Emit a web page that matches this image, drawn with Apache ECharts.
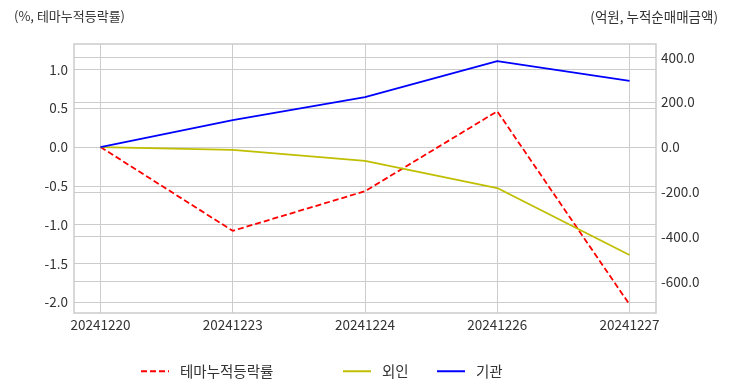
<!DOCTYPE html>
<html><head><meta charset="utf-8">
<script src="https://cdn.jsdelivr.net/npm/echarts@6/dist/echarts.min.js"></script>
<style>html,body{margin:0;padding:0;background:#fff}#c{width:732px;height:392px}</style>
</head><body><div id="c"></div>
<script>
const categories = ['20241220','20241223','20241224','20241226','20241227'];
const themeReturn = [0, -1.08, -0.57, 0.46, -2.03];
const foreign = [0, -13, -62, -183, -482];
const institution = [0, 120, 223, 384, 295];
const leftTicks = [-2.0, -1.5, -1.0, -0.5, 0.0, 0.5, 1.0];
const rightTicks = [-600, -400, -200, 0, 200, 400];
const seriesNames = ['테마누적등락률', '외인', '기관'];

const font = '"Noto Sans CJK KR", "Noto Sans", sans-serif';
const textColor = '#333333';
const gridColor = '#cccccc';
const toPairs = arr => arr.map((v, i) => [i, v]);

const legendText = { fontSize: 14.5, color: textColor, fontFamily: font, padding: [0, 0, 0, 6] };
const legendCommon = { top: 359, itemWidth: 28, itemHeight: 10, itemStyle: { opacity: 0 }, textStyle: legendText };

const chart = echarts.init(document.getElementById('c'));
chart.setOption({
  animation: false,
  backgroundColor: '#ffffff',
  textStyle: { fontFamily: font },
  title: [
    { text: '(%, 테마누적등락률)', left: 9, top: 5, textStyle: { fontSize: 13, fontWeight: 'normal', color: textColor, fontFamily: font } },
    { text: '(억원, 누적순매매금액)', right: 9, top: 5, textStyle: { fontSize: 13.5, fontWeight: 'normal', color: textColor, fontFamily: font } }
  ],
  grid: { left: 74, right: 76, top: 44, bottom: 79, show: true, borderColor: gridColor, borderWidth: 1.5, containLabel: false },
  xAxis: {
    type: 'value', min: -0.2, max: 4.2,
    axisLine: { show: false }, axisTick: { show: false, customValues: [0,1,2,3,4] },
    axisLabel: { customValues: [0,1,2,3,4], formatter: v => categories[Math.round(v)], color: textColor, fontSize: 13.5, margin: 5, fontFamily: font },
    splitLine: { show: true, lineStyle: { color: gridColor, width: 1 } }
  },
  yAxis: [
    { type: 'value', min: -2.139, max: 1.327, position: 'left',
      axisLine: { show: false }, axisTick: { show: false, customValues: leftTicks },
      axisLabel: { customValues: leftTicks, formatter: v => v.toFixed(1), color: textColor, fontSize: 13.5, margin: 6, fontFamily: font },
      splitLine: { show: true, lineStyle: { color: gridColor, width: 1 } } },
    { type: 'value', min: -741, max: 460, position: 'right',
      axisLine: { show: false }, axisTick: { show: false, customValues: rightTicks },
      axisLabel: { customValues: rightTicks, formatter: v => v.toFixed(1), color: textColor, fontSize: 13.5, margin: 5, fontFamily: font },
      splitLine: { show: true, lineStyle: { color: gridColor, width: 1 } } }
  ],
  legend: [
    Object.assign({ data: [seriesNames[0]], left: 135 }, legendCommon),
    Object.assign({ data: [seriesNames[1]], left: 337 }, legendCommon),
    Object.assign({ data: [seriesNames[2]], left: 431 }, legendCommon)
  ],
  series: [
    { name: seriesNames[0], type: 'line', yAxisIndex: 0, data: toPairs(themeReturn), symbol: 'none',
      lineStyle: { color: '#ff0000', width: 1.8, type: [6, 3] }, itemStyle: { color: '#ff0000' } },
    { name: seriesNames[1], type: 'line', yAxisIndex: 1, data: toPairs(foreign), symbol: 'none',
      lineStyle: { color: '#bfbf00', width: 1.8 }, itemStyle: { color: '#bfbf00' } },
    { name: seriesNames[2], type: 'line', yAxisIndex: 1, data: toPairs(institution), symbol: 'none',
      lineStyle: { color: '#0000ff', width: 1.8 }, itemStyle: { color: '#0000ff' } }
  ]
});
</script></body></html>
